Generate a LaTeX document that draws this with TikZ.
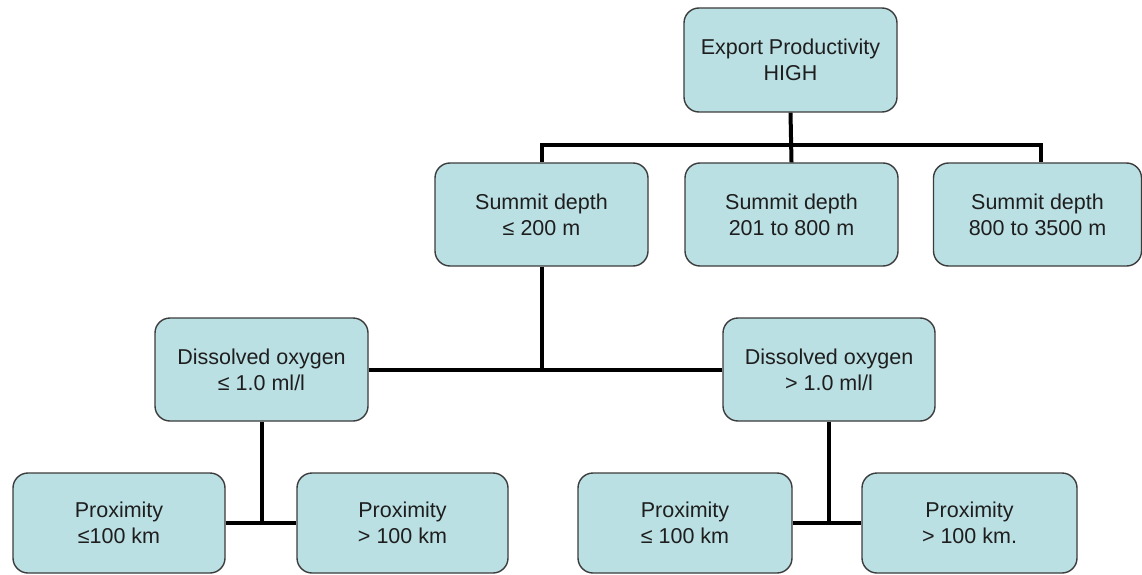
\documentclass[tikz,border=0pt]{standalone}
\usepackage{fontspec}
\setmainfont{Liberation Sans}
\definecolor{boxfill}{RGB}{187,224,228}
\definecolor{boxline}{RGB}{60,60,60}
\definecolor{txt}{RGB}{30,30,30}
\begin{document}
\begin{tikzpicture}[x=1pt,y=-1pt,
  nbox/.style={draw=boxline, line width=1.4pt, fill=boxfill, rounded corners=15pt,
    minimum width=213pt, minimum height=103pt, inner sep=0pt, align=center,
    text=txt, font=\fontsize{21.5}{26}\selectfont},
  conn/.style={draw=black, line width=4pt}]
\useasboundingbox (0,0) rectangle (1142,575);
\fill[white] (0,0) rectangle (1142,575);
% nodes
\node[nbox, minimum height=104pt] (top) at (790.5,60) {Export Productivity\\HIGH};
\node[nbox] (s1) at (541.5,214.5) {Summit depth\\≤ 200 m};
\node[nbox] (s2) at (791.5,214.5) {Summit depth\\201 to 800 m};
\node[nbox, minimum width=208pt] (s3) at (1037.5,214.5) {Summit depth\\800 to 3500 m};
\node[nbox] (d1) at (261.5,369.5) {Dissolved oxygen\\≤ 1.0 ml/l};
\node[nbox, minimum width=212pt] (d2) at (829,369.5) {Dissolved oxygen\\> 1.0 ml/l};
\node[nbox, minimum width=212pt, minimum height=100pt] (p1) at (119,523) {Proximity\\≤100 km};
\node[nbox, minimum width=211pt, minimum height=100pt] (p2) at (402.5,523) {Proximity\\> 100 km};
\node[nbox, minimum width=214pt, minimum height=100pt] (p3) at (685,523) {Proximity\\≤ 100 km};
\node[nbox, minimum width=215pt, minimum height=100pt] (p4) at (969.5,523) {Proximity\\> 100 km.};
% connectors
\coordinate (s3in) at ([xshift=3.5pt]s3.north);
\draw[conn] (top.south) -- (s2.north);
\draw[conn] (s1.north) -- ++(0,-17) -| (s3in);
\draw[conn] (s1.south) -- (s1.south |- d1.east);
\draw[conn] (d1.east) -- (d2.west);
\draw[conn] (d1.south) -- (d1.south |- p1.east);
\draw[conn] (p1.east) -- (p2.west);
\draw[conn] (d2.south) -- (d2.south |- p3.east);
\draw[conn] (p3.east) -- (p4.west);
\end{tikzpicture}
\end{document}
